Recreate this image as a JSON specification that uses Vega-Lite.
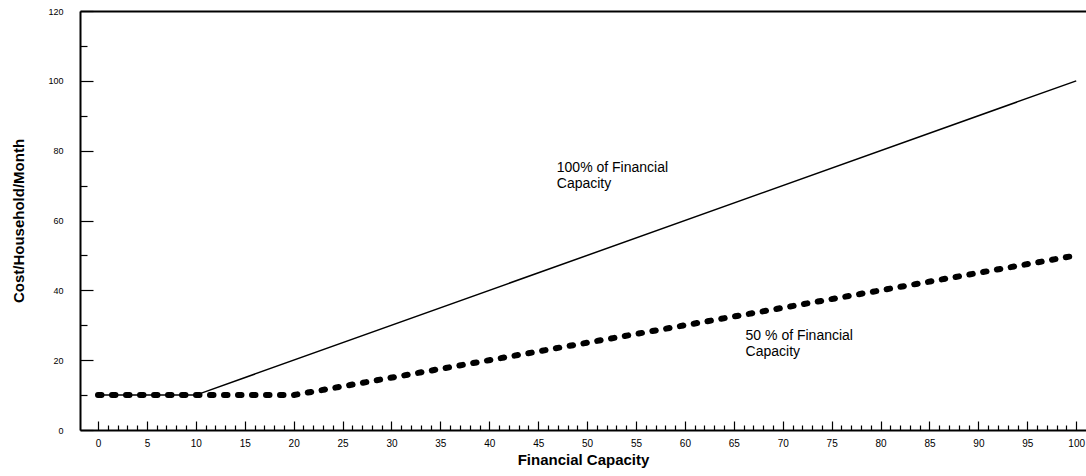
{
  "$schema": "https://vega.github.io/schema/vega-lite/v6.json",
  "width": 1006,
  "height": 419,
  "autosize": "none",
  "padding": {"left": 80, "top": 11, "right": 0, "bottom": 46},
  "background": "white",
  "config": {
    "view": {"stroke": null},
    "font": "Liberation Sans",
    "axis": {
      "grid": false,
      "domainColor": "black",
      "tickColor": "black",
      "labelColor": "black",
      "titleColor": "black",
      "domainWidth": 2,
      "tickWidth": 1.2,
      "labelFont": "Liberation Sans",
      "titleFont": "Liberation Sans"
    }
  },
  "datasets": {
    "lines": [
      {"x": 0, "y": 10, "series": "100%"},
      {"x": 10, "y": 10, "series": "100%"},
      {"x": 100, "y": 100, "series": "100%"},
      {"x": 0, "y": 10, "series": "50%"},
      {"x": 20, "y": 10, "series": "50%"},
      {"x": 100, "y": 50, "series": "50%"}
    ],
    "notes": [
      {"x": 46.9, "y": 77, "text": "100% of Financial\nCapacity"},
      {"x": 66.2, "y": 29, "text": "50 % of Financial\nCapacity"}
    ]
  },
  "layer": [
    {
      "data": {"name": "lines"},
      "transform": [{"filter": "datum.series == '100%'"}],
      "mark": {"type": "line", "color": "black", "strokeWidth": 1.5},
      "encoding": {
        "x": {
          "field": "x", "type": "quantitative",
          "scale": {"domain": [-1.84, 101], "nice": false, "zero": false},
          "axis": {
            "orient": "bottom",
            "values": [0, 5, 10, 15, 20, 25, 30, 35, 40, 45, 50, 55, 60, 65, 70, 75, 80, 85, 90, 95, 100],
            "tickSize": -9,
            "labelPadding": 17,
            "labelFontSize": 10,
            "labelFlush": false,
            "title": "Financial Capacity",
            "titleFontSize": 15,
            "titleFontWeight": "bold",
            "titlePadding": 4
          }
        },
        "y": {
          "field": "y", "type": "quantitative",
          "scale": {"domain": [0, 120], "nice": false},
          "axis": {
            "orient": "left",
            "values": [0, 20, 40, 60, 80, 100, 120],
            "tickSize": -13,
            "labelPadding": 30,
            "labelFontSize": 9,
            "labelFlush": false,
            "title": "Cost/Household/Month",
            "titleFontSize": 15,
            "titleFontWeight": "bold",
            "titlePadding": 21
          }
        }
      }
    },
    {
      "data": {"name": "lines"},
      "transform": [{"filter": "datum.series == '50%'"}],
      "mark": {"type": "line", "color": "black", "strokeWidth": 6, "strokeDash": [3.5, 10.5], "strokeCap": "round"},
      "encoding": {
        "x": {
          "field": "x", "type": "quantitative",
          "axis": {
            "orient": "bottom",
            "values": [1, 2, 3, 4, 6, 7, 8, 9, 11, 12, 13, 14, 16, 17, 18, 19, 21, 22, 23, 24, 26, 27, 28, 29, 31, 32, 33, 34, 36, 37, 38, 39, 41, 42, 43, 44, 46, 47, 48, 49, 51, 52, 53, 54, 56, 57, 58, 59, 61, 62, 63, 64, 66, 67, 68, 69, 71, 72, 73, 74, 76, 77, 78, 79, 81, 82, 83, 84, 86, 87, 88, 89, 91, 92, 93, 94, 96, 97, 98, 99],
            "tickSize": -5,
            "labels": false,
            "domain": false,
            "title": null
          }
        },
        "y": {
          "field": "y", "type": "quantitative",
          "axis": {
            "orient": "left",
            "values": [10, 30, 50, 70, 90, 110],
            "tickSize": -7,
            "labels": false,
            "domain": false,
            "title": null
          }
        }
      }
    },
    {
      "data": {"name": "notes"},
      "mark": {"type": "text", "align": "left", "baseline": "top", "fontSize": 14, "lineBreak": "\n", "lineHeight": 16, "color": "black", "font": "Liberation Sans"},
      "encoding": {
        "x": {
          "field": "x", "type": "quantitative",
          "axis": {"orient": "top", "labels": false, "ticks": false, "domain": true, "title": null}
        },
        "y": {"field": "y", "type": "quantitative", "axis": null},
        "text": {"field": "text"}
      }
    }
  ],
  "resolve": {"axis": {"x": "independent", "y": "independent"}}
}
